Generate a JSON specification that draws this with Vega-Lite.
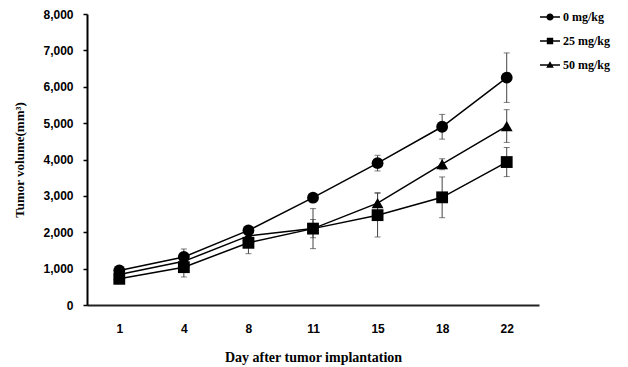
{
  "$schema": "https://vega.github.io/schema/vega-lite/v6.json",
  "width": 452,
  "height": 291,
  "autosize": "none",
  "padding": {"left": 87, "top": 14, "right": 89, "bottom": 62},
  "background": "white",
  "config": {"view": {"stroke": null}, "axis": {"grid": false}},
  "data": {
    "values": [
      {"day": 1, "dose": "0 mg/kg", "mean": 950, "err": 80},
      {"day": 4, "dose": "0 mg/kg", "mean": 1320, "err": 220},
      {"day": 8, "dose": "0 mg/kg", "mean": 2050, "err": 100},
      {"day": 11, "dose": "0 mg/kg", "mean": 2950, "err": 80},
      {"day": 15, "dose": "0 mg/kg", "mean": 3900, "err": 215},
      {"day": 18, "dose": "0 mg/kg", "mean": 4900, "err": 340},
      {"day": 22, "dose": "0 mg/kg", "mean": 6250, "err": 680},
      {"day": 1, "dose": "25 mg/kg", "mean": 720, "err": 60},
      {"day": 4, "dose": "25 mg/kg", "mean": 1040, "err": 270},
      {"day": 8, "dose": "25 mg/kg", "mean": 1710, "err": 300},
      {"day": 11, "dose": "25 mg/kg", "mean": 2100, "err": 550},
      {"day": 15, "dose": "25 mg/kg", "mean": 2470, "err": 600},
      {"day": 18, "dose": "25 mg/kg", "mean": 2960, "err": 560},
      {"day": 22, "dose": "25 mg/kg", "mean": 3930, "err": 400},
      {"day": 1, "dose": "50 mg/kg", "mean": 840, "err": 60},
      {"day": 4, "dose": "50 mg/kg", "mean": 1200, "err": 150},
      {"day": 8, "dose": "50 mg/kg", "mean": 1900, "err": 150},
      {"day": 11, "dose": "50 mg/kg", "mean": 2100, "err": 250},
      {"day": 15, "dose": "50 mg/kg", "mean": 2800, "err": 290},
      {"day": 18, "dose": "50 mg/kg", "mean": 3870, "err": 150},
      {"day": 22, "dose": "50 mg/kg", "mean": 4920, "err": 450}
    ]
  },
  "encoding": {
    "x": {
      "field": "day",
      "type": "ordinal",
      "scale": {"type": "point", "padding": 0.5},
      "axis": {
        "title": "Day after tumor implantation",
        "titleFont": "Liberation Serif",
        "titleFontSize": 14,
        "titleFontWeight": "bold",
        "titleColor": "black",
        "titleBaseline": "middle",
        "titleY": 52,
        "labelAngle": 0,
        "labelFont": "Liberation Sans",
        "labelFontSize": 12,
        "labelFontWeight": "bold",
        "labelColor": "black",
        "labelPadding": 18,
        "ticks": false,
        "domainColor": "#222",
        "domainWidth": 2
      }
    },
    "y": {
      "field": "mean",
      "type": "quantitative",
      "scale": {"domain": [0, 8000], "nice": false, "zero": true},
      "axis": {
        "title": "Tumor volume(mm³)",
        "titleFont": "Liberation Serif",
        "titleFontSize": 13,
        "titleFontWeight": "bold",
        "titleColor": "black",
        "titleX": -68,
        "titleY": 145.5,
        "titleBaseline": "middle",
        "values": [0, 1000, 2000, 3000, 4000, 5000, 6000, 7000, 8000],
        "format": ",.0f",
        "labelFont": "Liberation Sans",
        "labelFontSize": 12,
        "labelFontWeight": "bold",
        "labelColor": "black",
        "labelPadding": 10,
        "tickSize": 4,
        "tickColor": "black",
        "tickWidth": 1.5,
        "domainColor": "black",
        "domainWidth": 2
      }
    }
  },
  "layer": [
    {
      "mark": {"type": "errorbar", "color": "#444", "thickness": 1, "ticks": {"size": 6, "thickness": 1}},
      "encoding": {
        "yError": {"field": "err"},
        "detail": {"field": "dose"}
      }
    },
    {
      "mark": {"type": "line", "color": "black", "strokeWidth": 1.5},
      "encoding": {"detail": {"field": "dose"}}
    },
    {
      "mark": {"type": "point", "filled": true, "color": "black", "size": 0.5, "opacity": 1},
      "encoding": {
        "shape": {
          "field": "dose",
          "type": "nominal",
          "scale": {
            "domain": ["0 mg/kg", "25 mg/kg", "50 mg/kg"],
            "range": [
              "M-1,-0.07H1V0.07H-1Z M0.36,0A0.36,0.36 0 1,1 -0.36,0A0.36,0.36 0 1,1 0.36,0Z",
              "M-1,-0.07H1V0.07H-1Z M-0.32,-0.32H0.32V0.32H-0.32Z",
              "M-1,-0.07H1V0.07H-1Z M0,-0.38L0.38,0.28H-0.38Z"
            ]
          },
          "legend": {
            "title": null,
            "orient": "none",
            "legendX": 453,
            "legendY": -7,
            "padding": 0,
            "symbolSize": 400,
            "symbolFillColor": "black",
            "symbolStrokeWidth": 0,
            "symbolOpacity": 1,
            "rowPadding": 8,
            "labelOffset": 3,
            "labelFont": "Liberation Serif",
            "labelFontSize": 12,
            "labelFontWeight": "bold",
            "labelColor": "black",
            "encode": {
              "symbols": {
                "update": {
                  "size": {"value": 400},
                  "opacity": {"value": 1},
                  "fill": {"value": "black"},
                  "strokeWidth": {"value": 0}
                }
              }
            }
          }
        }
      }
    },
    {
      "mark": {"type": "point", "filled": true, "color": "black", "size": 140, "opacity": 1},
      "encoding": {
        "shape": {
          "field": "dose",
          "type": "nominal",
          "scale": {
            "domain": ["0 mg/kg", "25 mg/kg", "50 mg/kg"],
            "range": ["circle", "square", "triangle-up"]
          },
          "legend": null
        }
      }
    }
  ],
  "resolve": {"scale": {"shape": "independent"}}
}
